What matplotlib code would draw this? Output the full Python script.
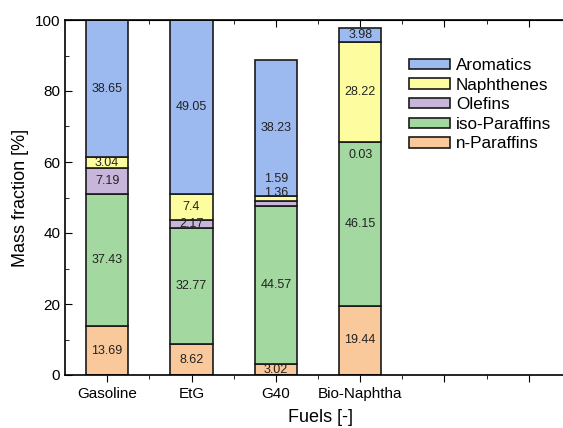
import matplotlib
matplotlib.use("Agg")
import matplotlib.pyplot as plt
from matplotlib.ticker import MultipleLocator, FixedLocator
import numpy as np

plt.rcParams['font.family'] = ['Liberation Sans', 'DejaVu Sans']

fuels = ['Gasoline', 'EtG', 'G40', 'Bio-Naphtha']
n_paraffins = [13.69, 8.62, 3.02, 19.44]
iso_paraffins = [37.43, 32.77, 44.57, 46.15]
olefins = [7.19, 2.17, 1.36, 0.03]
naphthenes = [3.04, 7.4, 1.59, 28.22]
aromatics = [38.65, 49.05, 38.23, 3.98]

series = [
    ('n-Paraffins', n_paraffins, '#f9c89b'),
    ('iso-Paraffins', iso_paraffins, '#a3d9a1'),
    ('Olefins', olefins, '#c7b5da'),
    ('Naphthenes', naphthenes, '#fdfda0'),
    ('Aromatics', aromatics, '#9dbaf0'),
]

# small nudges (points) for labels on thin segments
nudge = {('Olefins', 2): 8, ('Naphthenes', 2): 14, ('Olefins', 3): -9}

fig = plt.figure(figsize=(5.63, 4.28), dpi=100)
ax = fig.add_axes([65 / 563, 53 / 428, 506 / 563, 355 / 428])

x = np.arange(1, len(fuels) + 1)
bottom = np.zeros(len(fuels))
handles = {}
for name, vals, col in series:
    vals = np.array(vals)
    bars = ax.bar(x, vals, 0.5, bottom=bottom, color=col, edgecolor='#1a1a1a',
                  linewidth=1.2, label=name)
    handles[name] = bars
    for i, (xi, v, b) in enumerate(zip(x, vals, bottom)):
        ax.annotate(f'{v:g}', (xi, b + v / 2), xytext=(0, nudge.get((name, i), 0)),
                    textcoords='offset points', ha='center', va='center',
                    fontsize=9, color='#222222')
    bottom += vals

ax.set_xlim(0.5, 6.5)
ax.set_ylim(0, 100)
ax.xaxis.set_major_locator(FixedLocator(np.arange(1, 7)))
ax.xaxis.set_minor_locator(FixedLocator(np.arange(1.5, 7, 1)))
ax.set_xticklabels(fuels + ['', ''], fontsize=11)
ax.yaxis.set_major_locator(MultipleLocator(20))
ax.yaxis.set_minor_locator(MultipleLocator(10))
ax.tick_params(axis='y', which='both', direction='in', labelsize=11)
ax.tick_params(axis='y', which='major', length=5)
ax.tick_params(axis='y', which='minor', length=3)
ax.tick_params(axis='x', which='major', direction='out', length=5, labelsize=11)
ax.tick_params(axis='x', which='minor', direction='out', length=3)

top = ax.secondary_xaxis('top')
top.set_xticks(np.arange(1, 7))
top.xaxis.set_minor_locator(FixedLocator(np.arange(1.5, 7, 1)))
top.tick_params(which='major', direction='in', length=5, labeltop=False)
top.tick_params(which='minor', direction='in', length=3)

for sp in ax.spines.values():
    sp.set_linewidth(1.2)

ax.set_ylabel('Mass fraction [%]', fontsize=13)
ax.set_xlabel('Fuels [-]', fontsize=13)
ax.xaxis.set_label_coords((320 - 65) / 506, -0.095)

order = ['Aromatics', 'Naphthenes', 'Olefins', 'iso-Paraffins', 'n-Paraffins']
ax.legend([handles[o] for o in order], order, loc='upper left',
          bbox_to_anchor=((409 - 65) / 506, (375 - 58) / 355), frameon=False,
          fontsize=12.3, handlelength=2.4, handleheight=0.55, labelspacing=0.27,
          handletextpad=0.35, borderaxespad=0, borderpad=0)

fig.savefig('out.png', dpi=100)
